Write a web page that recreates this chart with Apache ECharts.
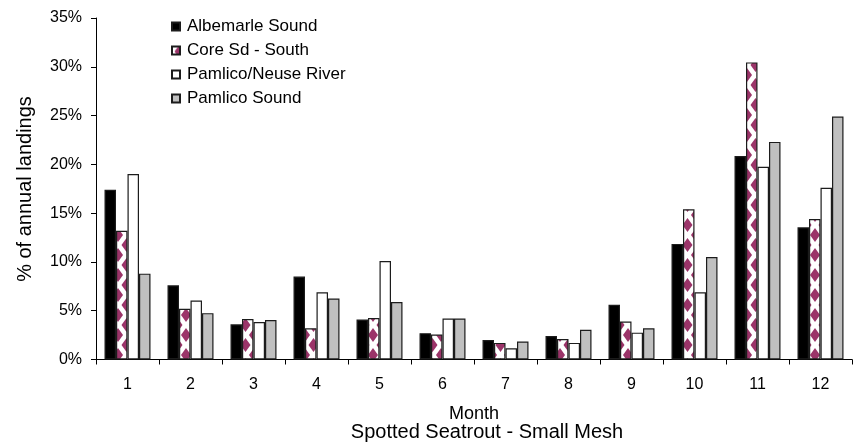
<!DOCTYPE html>
<html>
<head>
<meta charset="utf-8">
<style>
  html, body { margin: 0; padding: 0; background: #fff; }
  #chart { width: 854px; height: 448px; }
</style>
<script src="https://cdn.jsdelivr.net/npm/echarts@6/dist/echarts.min.js"></script>
</head>
<body>
<div id="chart"></div>
<script>
// Monthly share of annual spotted seatrout landings (small mesh), by area
const months = ['1', '2', '3', '4', '5', '6', '7', '8', '9', '10', '11', '12'];
const albemarleSound = [17.4, 7.6, 3.6, 8.5, 4.1, 2.7, 2.0, 2.4, 5.6, 11.85, 20.85, 13.55];
const coreSdSouth    = [13.2, 5.2, 4.15, 3.2, 4.25, 2.55, 1.7, 2.1, 3.9, 15.4, 30.45, 14.4];
const pamlicoNeuse   = [19.0, 6.05, 3.85, 6.9, 10.1, 4.2, 1.15, 1.7, 2.75, 6.9, 19.75, 17.6];
const pamlicoSound   = [8.8, 4.75, 4.05, 6.25, 5.9, 4.2, 1.85, 3.05, 3.2, 10.5, 22.3, 24.9];
const yTicks = { min: 0, max: 35, step: 5 };

const FONT = '"Liberation Sans", Arial, sans-serif';

// staggered maroon diamonds on white, used for the Core Sd - South bars
function diamondPattern() {
  const W = 17, H = 20;
  const c = document.createElement('canvas');
  c.width = W; c.height = H;
  const ctx = c.getContext('2d');
  ctx.fillStyle = '#ffffff';
  ctx.fillRect(0, 0, W, H);
  ctx.filter = 'blur(0.6px)';
  ctx.fillStyle = '#9b3469';
  const centres = [[16, 15], [7.5, 5]];
  const hw = 5, hh = 7;
  centres.forEach(([cx, cy]) => {
    for (let dx = -W; dx <= W; dx += W) {
      for (let dy = -H; dy <= H; dy += H) {
        const x = cx + dx, y = cy + dy;
        ctx.beginPath();
        ctx.moveTo(x, y - hh);
        ctx.lineTo(x + hw, y);
        ctx.lineTo(x, y + hh);
        ctx.lineTo(x - hw, y);
        ctx.closePath();
        ctx.fill();
      }
    }
  });
  return c;
}

const chart = echarts.init(document.getElementById('chart'), null, { renderer: 'canvas' });

const edge = { borderColor: '#1c1c1c', borderWidth: 1.2 };

chart.setOption({
  animation: false,
  backgroundColor: '#ffffff',
  textStyle: { fontFamily: FONT, color: '#000' },
  grid: { left: 96, right: 2, top: 18, bottom: 88.5, containLabel: false, outerBoundsMode: 'none' },
  legend: {
    orient: 'vertical',
    left: 166,
    top: 13,
    itemWidth: 8,
    itemHeight: 8,
    itemGap: 7,
    icon: 'rect',
    textStyle: { fontFamily: FONT, fontSize: 17, color: '#000', padding: [0, 0, 0, 2] },
    data: ['Albemarle Sound', 'Core Sd - South', 'Pamlico/Neuse River', 'Pamlico Sound']
  },
  xAxis: {
    type: 'category',
    data: months,
    boundaryGap: true,
    axisLine: { show: true, lineStyle: { color: '#000', width: 1 } },
    axisTick: { show: true, length: 5, lineStyle: { color: '#000' } },
    axisLabel: { fontFamily: FONT, fontSize: 16, color: '#000', margin: 17 },
    splitLine: { show: false }
  },
  yAxis: {
    type: 'value',
    min: yTicks.min,
    max: yTicks.max,
    interval: yTicks.step,
    axisLine: { show: true, lineStyle: { color: '#000', width: 1 } },
    axisTick: { show: true, length: 5, lineStyle: { color: '#000' } },
    axisLabel: { fontFamily: FONT, fontSize: 16, color: '#000', margin: 14, formatter: '{value}%' },
    splitLine: { show: false }
  },
  graphic: [
    {
      type: 'text',
      x: 25, y: 189,
      rotation: Math.PI / 2,
      style: {
        text: '% of annual landings',
        font: '20px ' + FONT,
        fill: '#000',
        align: 'center',
        verticalAlign: 'middle'
      }
    },
    {
      type: 'text',
      x: 474, y: 414,
      style: { text: 'Month', font: '18px ' + FONT, fill: '#000', align: 'center', verticalAlign: 'middle' }
    },
    {
      type: 'text',
      x: 487, y: 432,
      style: { text: 'Spotted Seatrout - Small Mesh', font: '20px ' + FONT, fill: '#000', align: 'center', verticalAlign: 'middle' }
    }
  ],
  series: [
    {
      name: 'Albemarle Sound', type: 'bar', data: albemarleSound,
      barGap: '0%', barCategoryGap: '27%',
      itemStyle: Object.assign({ color: '#000000' }, edge)
    },
    {
      name: 'Core Sd - South', type: 'bar', data: coreSdSouth,
      itemStyle: Object.assign({ color: { image: diamondPattern(), repeat: 'repeat' } }, edge)
    },
    {
      name: 'Pamlico/Neuse River', type: 'bar', data: pamlicoNeuse,
      itemStyle: Object.assign({ color: '#ffffff' }, edge)
    },
    {
      name: 'Pamlico Sound', type: 'bar', data: pamlicoSound,
      itemStyle: Object.assign({ color: '#c0c0c0' }, edge)
    }
  ]
});
</script>
</body>
</html>
